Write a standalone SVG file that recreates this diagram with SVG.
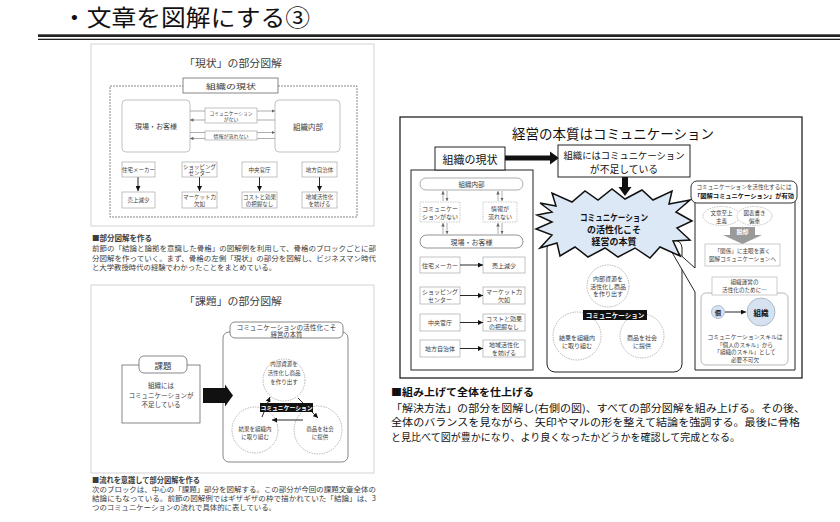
<svg xmlns="http://www.w3.org/2000/svg" width="840" height="522" viewBox="0 0 840 522">
<defs>
<style>
text{font-family:"Noto Sans CJK JP","Noto Sans CJK SC",sans-serif;dominant-baseline:central}
.c{text-anchor:middle}
.g{fill:#3c3c3c}
.k{fill:#111}
.b{font-weight:bold}
.ln{fill:#fff;stroke:#555;stroke-width:0.7}
.lg{fill:#fff;stroke:#999;stroke-width:0.6}
.dk{fill:#fff;stroke:#222;stroke-width:1}
.dash{stroke-dasharray:2 1}
.arr{stroke:#111;stroke-width:0.9;fill:none}
.arg{stroke:#777;stroke-width:0.6;fill:none}
.circ{fill:none;stroke:#888;stroke-width:0.6;stroke-dasharray:1.5 1}
</style>
<marker id="a" viewBox="0 0 10 10" refX="10" refY="5" markerWidth="5" markerHeight="5" orient="auto" markerUnits="userSpaceOnUse"><path d="M0,0L10,5L0,10z" fill="#111"/></marker>
<marker id="ag" viewBox="0 0 10 10" refX="10" refY="5" markerWidth="3.5" markerHeight="3.5" orient="auto" markerUnits="userSpaceOnUse"><path d="M0,0L10,5L0,10z" fill="#666"/></marker>
</defs>
<rect width="840" height="522" fill="#fff"/>

<g id="title">
<text x="62" y="16" font-size="23" fill="#111" textLength="248" lengthAdjust="spacingAndGlyphs">・文章を図解にする③</text>
<rect x="38" y="34.3" width="802" height="2.7" fill="#222"/>
<rect x="38" y="38.7" width="802" height="1.3" fill="#222"/>
</g>

<!-- Panel 1 -->
<g id="panel-genjo">
<rect x="91" y="44" width="283" height="182" fill="#fff" stroke="#c8c8c8" stroke-width="0.8"/>
<text x="233" y="62" class="c g" font-size="10" textLength="98" lengthAdjust="spacingAndGlyphs">「現状」の部分図解</text>
<rect x="110" y="86" width="247" height="131" class="ln dash" fill="none"/>
<g id="p1-label"><rect x="183" y="78" width="95" height="15" class="ln"/>
<text x="231" y="85.5" class="c g" font-size="7" textLength="50" lengthAdjust="spacingAndGlyphs">組織の現状</text></g>
<g id="p1-genba"><rect x="122" y="100" width="68" height="52" rx="4" class="lg"/>
<text x="156" y="126" class="c g" font-size="7">現場・お客様</text></g>
<g id="p1-naibu"><rect x="275" y="100" width="65" height="52" rx="4" class="lg"/>
<text x="308" y="126" class="c g" font-size="7.5">組織内部</text></g>
<g id="p1-conn">
<line x1="190" y1="111" x2="275" y2="111" class="arg" marker-end="url(#ag)"/>
<line x1="275" y1="120" x2="190" y2="120" class="arg" marker-end="url(#ag)"/>
<line x1="190" y1="132.5" x2="275" y2="132.5" class="arg" marker-end="url(#ag)"/>
<line x1="275" y1="138.5" x2="190" y2="138.5" class="arg" marker-end="url(#ag)"/>
<line x1="138" y1="177" x2="138" y2="191" class="arr" marker-end="url(#a)"/>
<line x1="199.5" y1="177" x2="199.5" y2="191" class="arr" marker-end="url(#a)"/>
<line x1="259.5" y1="177" x2="259.5" y2="191" class="arr" marker-end="url(#a)"/>
<line x1="319.5" y1="177" x2="319.5" y2="191" class="arr" marker-end="url(#a)"/>
</g>
<g id="p1-comm"><rect x="205" y="108" width="52" height="15" class="lg"/>
<text x="231" y="112.5" class="c g" font-size="4.8">コミュニケーション</text>
<text x="231" y="118.5" class="c g" font-size="4.8">がない</text></g>
<g id="p1-info"><rect x="205" y="131" width="52" height="9" class="lg"/>
<text x="231" y="135.5" class="c g" font-size="5">情報が流れない</text></g>
<g id="p1-r1"><rect x="122" y="162" width="33" height="15" class="lg"/><text x="138.5" y="169.5" class="c g" font-size="5.5">住宅メーカー</text></g>
<g id="p1-r2"><rect x="182" y="162" width="35" height="15" class="lg"/><text x="199.5" y="166.5" class="c g" font-size="5.5">ショッピング</text><text x="199.5" y="173" class="c g" font-size="5.5">センター</text></g>
<g id="p1-r3"><rect x="242" y="162" width="35" height="15" class="lg"/><text x="259.5" y="169.5" class="c g" font-size="5.5">中央官庁</text></g>
<g id="p1-r4"><rect x="302" y="162" width="35" height="15" class="lg"/><text x="319.5" y="169.5" class="c g" font-size="5.5">地方自治体</text></g>
<g id="p1-s1"><rect x="122" y="192" width="33" height="16" class="lg"/><text x="138.5" y="200" class="c g" font-size="5.5">売上減少</text></g>
<g id="p1-s2"><rect x="182" y="192" width="35" height="16" class="lg"/><text x="199.5" y="196.5" class="c g" font-size="5.5">マーケット力</text><text x="199.5" y="203.5" class="c g" font-size="5.5">欠如</text></g>
<g id="p1-s3"><rect x="242" y="192" width="35" height="16" class="lg"/><text x="259.5" y="196.5" class="c g" font-size="5.5">コストと効果</text><text x="259.5" y="203.5" class="c g" font-size="5.5">の把握なし</text></g>
<g id="p1-s4"><rect x="302" y="192" width="35" height="16" class="lg"/><text x="319.5" y="196.5" class="c g" font-size="5.5">地域活性化</text><text x="319.5" y="203.5" class="c g" font-size="5.5">を妨げる</text></g>
</g>
<g id="text-1">
<text x="92" y="237" class="g b" font-size="7.5" textLength="60" lengthAdjust="spacingAndGlyphs">■部分図解を作る</text>
<text x="92" y="248" class="g" font-size="7.3" textLength="284" lengthAdjust="spacingAndGlyphs">前節の「結論と論拠を意識した骨格」の図解例を利用して、骨格のブロックごとに部</text>
<text x="92" y="258" class="g" font-size="7.3" textLength="284" lengthAdjust="spacingAndGlyphs">分図解を作っていく。まず、骨格の左側「現状」の部分を図解し、ビジネスマン時代</text>
<text x="92" y="267" class="g" font-size="7.3" textLength="184" lengthAdjust="spacingAndGlyphs">と大学教授時代の経験でわかったことをまとめている。</text>
</g>

<!-- Panel 2 -->
<g id="panel-kadai">
<rect x="91" y="285" width="283" height="188" fill="#fff" stroke="#c8c8c8" stroke-width="0.8"/>
<text x="233" y="300" class="c g" font-size="10" textLength="98" lengthAdjust="spacingAndGlyphs">「課題」の部分図解</text>
<rect x="223" y="332" width="125" height="130" rx="6" class="ln"/>
<g id="p2-label"><rect x="230" y="322" width="113" height="16" rx="5" class="ln"/>
<text x="286.5" y="327" class="c g" font-size="6.3" textLength="100" lengthAdjust="spacingAndGlyphs">コミュニケーションの活性化こそ</text>
<text x="286.5" y="334.5" class="c g" font-size="6.3">経営の本質</text></g>
<g id="p2-kadai"><rect x="122" y="365" width="78" height="58" class="ln"/>
<rect x="139" y="356" width="48" height="17" rx="5" class="ln"/>
<text x="163" y="364.5" class="c g" font-size="8.5">課題</text>
<text x="161" y="385" class="c g" font-size="6.5">組織には</text>
<text x="161" y="395" class="c g" font-size="6.5">コミュニケーションが</text>
<text x="161" y="404" class="c g" font-size="6.5">不足している</text></g>
<polygon id="p2-bigarrow" points="203,388 225,388 225,384.5 233,395.5 225,406.5 225,403 203,403" fill="#111"/>
<g id="p2-c1"><circle cx="284" cy="380" r="21" class="circ"/>
<text x="284" y="364" class="c g" font-size="5.5">内部資源を</text>
<text x="284" y="373" class="c g" font-size="5.5">活性化し商品</text>
<text x="284" y="382" class="c g" font-size="5.5">を作り出す</text></g>
<g id="p2-c2"><circle cx="255" cy="430" r="23" class="circ"/>
<text x="255" y="429" class="c g" font-size="5.5">結果を組織内</text>
<text x="255" y="437" class="c g" font-size="5.5">に取り組む</text></g>
<g id="p2-c3"><circle cx="318" cy="430" r="24" class="circ"/>
<text x="320" y="429" class="c g" font-size="5.5">商品を社会</text>
<text x="320" y="437" class="c g" font-size="5.5">に提供</text></g>
<g id="p2-conn">
<line x1="303" y1="420" x2="272" y2="420" class="arr" marker-end="url(#a)"/>
<line x1="262" y1="417" x2="270" y2="397" class="arr" marker-end="url(#a)"/>
<line x1="298" y1="398" x2="318" y2="418" class="arr" marker-end="url(#a)"/>
</g>
<g id="p2-comm"><rect x="260" y="403" width="53" height="9" fill="#111"/>
<text x="286.5" y="407.5" class="c b" font-size="5.8" fill="#fff">コミュニケーション</text></g>
</g>
<g id="text-2">
<text x="92" y="479" class="g b" font-size="7.5" textLength="108" lengthAdjust="spacingAndGlyphs">■流れを意識して部分図解を作る</text>
<text x="92" y="489" class="g" font-size="7.3" textLength="284" lengthAdjust="spacingAndGlyphs">次のブロックは、中心の「課題」部分を図解する。この部分が今回の課題文章全体の</text>
<text x="92" y="498" class="g" font-size="7.3" textLength="284" lengthAdjust="spacingAndGlyphs">結論にもなっている。前節の図解例ではギザギザの枠で描かれていた「結論」は、3</text>
<text x="92" y="507" class="g" font-size="7.3" textLength="184" lengthAdjust="spacingAndGlyphs">つのコミュニケーションの流れで具体的に表している。</text>
</g>

<!-- Panel 3 -->
<g id="panel-honshitsu">
<rect x="400" y="117" width="402" height="261" fill="#fff" stroke="#111" stroke-width="1.2"/>
<text x="512" y="133" class="k" font-size="13.5" textLength="202" lengthAdjust="spacingAndGlyphs">経営の本質はコミュニケーション</text>

<g id="genjo-container"><rect x="411" y="170" width="122" height="200" class="dk"/></g>
<g id="genjo"><rect x="435" y="147" width="70" height="23" class="dk"/>
<text x="470" y="158.5" class="c k" font-size="11">組織の現状</text></g>

<g id="r-naibu"><rect x="420" y="178" width="103" height="12" rx="6" fill="#fff" stroke="#888" stroke-width="0.7"/>
<text x="471.5" y="184" class="c g" font-size="6.5">組織内部</text></g>
<g id="r-comm"><rect x="420" y="202" width="40" height="20" fill="#fff" stroke="#aaa" stroke-width="0.6" stroke-dasharray="1.5 1"/>
<text x="440" y="208" class="c g" font-size="6">コミュニケー</text>
<text x="440" y="216" class="c g" font-size="6">ションがない</text></g>
<g id="r-info"><rect x="483" y="202" width="34" height="20" fill="#fff" stroke="#aaa" stroke-width="0.6" stroke-dasharray="1.5 1"/>
<text x="500" y="208" class="c g" font-size="6">情報が</text>
<text x="500" y="216" class="c g" font-size="6">流れない</text></g>
<g id="r-genba"><rect x="420" y="235" width="103" height="13" rx="6.5" fill="#fff" stroke="#666" stroke-width="0.7"/>
<text x="471.5" y="241.5" class="c g" font-size="7">現場・お客様</text></g>
<g id="r-row1"><rect x="420" y="257" width="40" height="16" class="lg"/><text x="440" y="265" class="c g" font-size="6">住宅メーカー</text></g>
<g id="r-row1b"><rect x="483" y="257" width="42" height="16" class="lg"/><text x="504" y="265" class="c g" font-size="6">売上減少</text></g>
<g id="r-row2"><rect x="420" y="287" width="40" height="17" class="lg"/><text x="440" y="291.5" class="c g" font-size="6">ショッピング</text><text x="440" y="299.5" class="c g" font-size="6">センター</text></g>
<g id="r-row2b"><rect x="483" y="287" width="42" height="17" class="lg"/><text x="504" y="291.5" class="c g" font-size="6">マーケット力</text><text x="504" y="299.5" class="c g" font-size="6">欠如</text></g>
<g id="r-row3"><rect x="420" y="314" width="40" height="17" class="lg"/><text x="440" y="322.5" class="c g" font-size="6">中央官庁</text></g>
<g id="r-row3b"><rect x="483" y="314" width="42" height="17" class="lg"/><text x="504" y="318.5" class="c g" font-size="6">コストと効果</text><text x="504" y="326.5" class="c g" font-size="6">の把握なし</text></g>
<g id="r-row4"><rect x="420" y="340" width="40" height="17" class="lg"/><text x="440" y="348.5" class="c g" font-size="6">地方自治体</text></g>
<g id="r-row4b"><rect x="483" y="340" width="42" height="17" class="lg"/><text x="504" y="344.5" class="c g" font-size="6">地域活性化</text><text x="504" y="352.5" class="c g" font-size="6">を妨げる</text></g>

<g id="r-conn">
<line x1="443" y1="201" x2="443" y2="191" class="arg" marker-end="url(#ag)"/>
<line x1="447" y1="191" x2="447" y2="201" class="arg" marker-end="url(#ag)"/>
<line x1="498" y1="201" x2="498" y2="191" class="arg" marker-end="url(#ag)"/>
<line x1="502" y1="191" x2="502" y2="201" class="arg" marker-end="url(#ag)"/>
<line x1="443" y1="234" x2="443" y2="223" class="arg" marker-end="url(#ag)"/>
<line x1="447" y1="223" x2="447" y2="234" class="arg" marker-end="url(#ag)"/>
<line x1="498" y1="234" x2="498" y2="223" class="arg" marker-end="url(#ag)"/>
<line x1="502" y1="223" x2="502" y2="234" class="arg" marker-end="url(#ag)"/>
<line x1="460" y1="265" x2="483" y2="265" class="arr" marker-end="url(#a)"/>
<line x1="460" y1="295.5" x2="483" y2="295.5" class="arr" marker-end="url(#a)"/>
<line x1="460" y1="322.5" x2="483" y2="322.5" class="arr" marker-end="url(#a)"/>
<line x1="460" y1="348.5" x2="483" y2="348.5" class="arr" marker-end="url(#a)"/>
<line x1="505" y1="158" x2="551" y2="158" stroke="#111" stroke-width="5"/>
<polygon points="550,151.5 559,158 550,164.5" fill="#111"/>
<rect x="622" y="177" width="6" height="11" fill="#111"/>
<polygon points="618.5,187 631.5,187 625,196" fill="#111"/>
<line x1="622" y1="326" x2="595" y2="326" class="arr" marker-end="url(#a)"/>
<line x1="592" y1="313" x2="600" y2="304" class="arr" marker-end="url(#a)"/>
<line x1="627" y1="303" x2="643" y2="318" class="arr" marker-end="url(#a)"/>
</g>

<g id="fusoku"><rect x="558" y="145" width="132" height="32" class="dk"/>
<text x="624" y="155" class="c k" font-size="9.5" textLength="121" lengthAdjust="spacingAndGlyphs">組織にはコミュニケーション</text>
<text x="624" y="169" class="c k" font-size="9.8">が不足している</text></g>

<g id="cycle"><rect x="547" y="240" width="135" height="132" rx="8" class="dk"/>
<circle cx="608" cy="286" r="21" class="circ"/>
<circle cx="577" cy="336" r="24" class="circ"/>
<circle cx="642" cy="336" r="22" class="circ"/>
<text x="608" y="278" class="c g" font-size="6">内部資源を</text>
<text x="608" y="286" class="c g" font-size="6">活性化し商品</text>
<text x="608" y="293.5" class="c g" font-size="6">を作り出す</text>
<text x="577" y="337" class="c g" font-size="6">結果を組織内</text>
<text x="577" y="345" class="c g" font-size="6">に取り組む</text>
<text x="642" y="337" class="c g" font-size="6">商品を社会</text>
<text x="642" y="345" class="c g" font-size="6">に提供</text>
<rect x="583" y="310" width="64" height="10" fill="#111"/>
<text x="615" y="315" class="c b" font-size="6.5" fill="#fff">コミュニケーション</text></g>

<g id="callout">
<path d="M695,195 H795 V370 H695 V292 L666,242 L695,268 Z" fill="#fff" stroke="#222" stroke-width="1"/>
<g id="co-label"><rect x="691" y="181" width="106" height="22" rx="6" fill="#fff" stroke="#333" stroke-width="1"/>
<text x="744" y="186.5" class="c g" font-size="5.6" textLength="95" lengthAdjust="spacingAndGlyphs">コミュニケーションを活性化するには</text>
<text x="744" y="195.5" class="c k b" font-size="6.2" textLength="100" lengthAdjust="spacingAndGlyphs">「図解コミュニケーション」が有効</text></g>
<ellipse cx="721.5" cy="216" rx="18.5" ry="9.5" fill="#fff" stroke="#999" stroke-width="0.6" stroke-dasharray="1.5 1"/>
<ellipse cx="754.5" cy="216" rx="17.5" ry="9.5" fill="#fff" stroke="#999" stroke-width="0.6" stroke-dasharray="1.5 1"/>
<text x="721.5" y="212.5" class="c g" font-size="5.5">文章至上</text>
<text x="721.5" y="220.5" class="c g" font-size="5.5">主義</text>
<text x="754.5" y="212.5" class="c g" font-size="5.5">図表書き</text>
<text x="754.5" y="220.5" class="c g" font-size="5.5">偏重</text>
<polygon points="730,227 755,227 755,235 762,235 742.5,244 723,235 730,235" fill="#9a9a9a"/>
<text x="742.5" y="231.5" class="c b" font-size="6" fill="#fff">脱却</text>
<rect x="705" y="244" width="75" height="22" fill="#fff" stroke="#aaa" stroke-width="0.6"/>
<text x="742.5" y="250.5" class="c g" font-size="5.6">「関係」に主眼を置く</text>
<text x="742.5" y="259" class="c g" font-size="5.6">図解コミュニケーションへ</text>
<rect x="701" y="293" width="87" height="72" rx="5" fill="#fff" stroke="#999" stroke-width="0.7"/>
<rect x="712" y="277" width="65" height="18" fill="#fff" stroke="#aaa" stroke-width="0.6"/>
<text x="744.5" y="282" class="c g" font-size="5.6">組織運営の</text>
<text x="744.5" y="289.5" class="c g" font-size="5.6">活性化のために…</text>
<line x1="725" y1="312" x2="746" y2="312" class="arr" marker-end="url(#a)"/>
<circle cx="718" cy="312" r="6.5" fill="#d6e2f0" stroke="#8a9ab0" stroke-width="0.6"/>
<text x="718" y="312" class="c k b" font-size="6">個</text>
<circle cx="761" cy="312" r="14" fill="#d6e2f0" stroke="#8a9ab0" stroke-width="0.6"/>
<text x="761" y="312" class="c k b" font-size="7.5">組織</text>
<text x="745" y="337" class="c g" font-size="5.6" textLength="75" lengthAdjust="spacingAndGlyphs">コミュニケーションスキルは</text>
<text x="745" y="344.5" class="c g" font-size="5.6">「個人のスキル」から</text>
<text x="745" y="352" class="c g" font-size="5.6">「組織のスキル」として</text>
<text x="745" y="359.5" class="c g" font-size="5.6">必要不可欠</text>
</g>

<g id="burst">
<polygon points="540,203 556,206 552,193 572,202 585,191 598,200 612,189 625,199 642,190 653,200 672,191 669,204 690,200 676,212 692,221 677,228 690,240 673,241 680,256 660,247 650,258 635,248 618,257 605,248 588,257 575,247 560,256 557,243 540,248 552,235 536,229 552,222 537,215 552,212" fill="#dce8f5" stroke="#111" stroke-width="1.5" stroke-linejoin="miter"/>
<text x="614" y="217" class="c k b" font-size="9" textLength="68" lengthAdjust="spacingAndGlyphs">コミュニケーション</text>
<text x="614" y="229" class="c k b" font-size="9">の活性化こそ</text>
<text x="614" y="241" class="c k b" font-size="9">経営の本質</text>
</g>
</g>

<g id="text-3">
<text x="391" y="391" class="k b" font-size="10" textLength="143" lengthAdjust="spacingAndGlyphs">■組み上げて全体を仕上げる</text>
<text x="391" y="407" class="k" font-size="10" textLength="414" lengthAdjust="spacingAndGlyphs">「解決方法」の部分を図解し(右側の図)、すべての部分図解を組み上げる。その後、</text>
<text x="391" y="421.5" class="k" font-size="10" textLength="409" lengthAdjust="spacingAndGlyphs">全体のバランスを見ながら、矢印やマルの形を整えて結論を強調する。最後に骨格</text>
<text x="391" y="436" class="k" font-size="10" textLength="349" lengthAdjust="spacingAndGlyphs">と見比べて図が豊かになり、より良くなったかどうかを確認して完成となる。</text>
</g>
</svg>
